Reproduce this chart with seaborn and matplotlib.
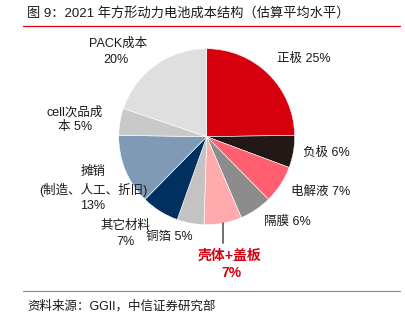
import matplotlib
matplotlib.use("Agg")
import matplotlib.pyplot as plt
import seaborn as sns
import numpy as np

sns.set_theme(style="white")
plt.rcParams["font.family"] = ["Liberation Sans", "Noto Sans CJK SC", "DejaVu Sans"]

# Cost components, clockwise from 12 o'clock
components = ["正极", "负极", "电解液", "隔膜", "壳体+盖板", "铜箔", "其它材料",
              "摊销", "cell次品成本", "PACK成本"]
shares = [25, 6, 7, 6, 7, 5, 7, 13, 5, 20]
palette = sns.color_palette(["#D7000F", "#231815", "#FF5F6F", "#8C8C8C", "#FFAAAD",
                             "#C3C3C3", "#00305F", "#7F9AB5", "#C9C9C9", "#DFDFDF"])

W, H = 405, 326
fig = plt.figure(figsize=(W / 100, H / 100), dpi=100)
ax = fig.add_axes([0, 0, 1, 1])

cx, cy, r = 206.7, H - 136.7, 88
wedges, _ = ax.pie(shares, colors=palette, startangle=90, counterclock=False,
                   center=(cx, cy), radius=r,
                   wedgeprops=dict(edgecolor="white", linewidth=0.4))
ax.set_xlim(0, W)
ax.set_ylim(0, H)
ax.set_aspect("auto")
ax.axis("off")


def put(x, y, s, **kw):
    kw.setdefault("fontsize", 9)
    kw.setdefault("color", "#1a1a1a")
    kw.setdefault("va", "center")
    ax.text(x, H - y, s, **kw)


# labels
put(277, 59, f"{components[0]} {shares[0]}%")
put(303, 153, f"{components[1]} {shares[1]}%")
put(291, 192, f"{components[2]} {shares[2]}%")
put(264, 222, f"{components[3]} {shares[3]}%")
put(146, 237, f"{components[5]} {shares[5]}%")
put(125, 226, components[6], ha="center")
put(125, 242, f"{shares[6]}%", ha="center")
put(93, 172, components[7], ha="center")
put(93, 190, "(制造、人工、折旧)", ha="center")
put(93, 206, f"{shares[7]}%", ha="center")
put(75, 112, "cell次品成", ha="center")
put(75, 127, f"本 {shares[8]}%", ha="center")
put(118, 44, components[9], ha="center")
put(116, 60, f"{shares[9]}%", ha="center")

# highlighted slice with leader line
w = wedges[4]
mid = np.deg2rad((w.theta1 + w.theta2) / 2)
lx = cx + r * np.cos(mid)
ly = cy + r * np.sin(mid)
ax.plot([lx, lx], [ly, H - 243], color="#555555", lw=1.2)
put(230, 256, components[4], ha="center", color="#D7000F", fontweight="bold", fontsize=10)
put(231, 273, f"{shares[4]}%", ha="center", color="#D7000F", fontweight="bold", fontsize=10)

# header / footer
put(27, 13, "图 9：2021 年方形动力电池成本结构（估算平均水平）", fontsize=9.5)
ax.plot([23, 400], [H - 25.5, H - 25.5], color="#E00012", lw=0.9)
ax.plot([23, 400], [H - 291, H - 291], color="#E06060", lw=0.8)
put(27, 306, "资料来源：GGII，中信证券研究部", fontsize=9)

fig.savefig("out.png", dpi=100)
